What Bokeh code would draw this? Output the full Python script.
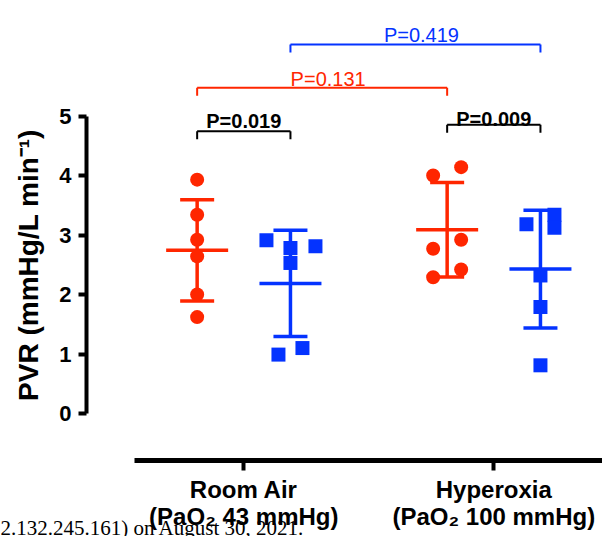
import numpy as np
from bokeh.plotting import figure
from bokeh.models import Range1d, FixedTicker, ColumnDataSource
from bokeh.core.properties import value
from bokeh.embed import file_html
from bokeh.resources import INLINE

# ---------------- data ----------------
groups = ["Room Air\n(PaO\u2082 43 mmHg)", "Hyperoxia\n(PaO\u2082 100 mmHg)"]
red_room_air = [3.93, 3.34, 2.92, 2.64, 2.00, 1.62]
blue_room_air = [2.91, 2.78, 2.81, 2.53, 1.10, 0.99]
red_hyperoxia = [4.00, 4.14, 2.92, 2.77, 2.42, 2.29]
blue_hyperoxia = [3.18, 3.34, 3.12, 2.32, 1.79, 0.81]

y_ticks = [0, 1, 2, 3, 4, 5]
y_label = "PVR (mmHg/L min\u207b\u00b9)"

p_labels = ["P=0.019", "P=0.009", "P=0.131", "P=0.419"]

watermark = "2.132.245.161) on August 30, 2021."

# ---------------- layout constants ----------------
RED = "#FF2600"
BLUE = "#0433FF"
FONT = "Liberation Sans"
PX = 1.0 / 250.0          # x units per pixel
OFF = 93.3 / 2 * PX       # series offset from group centre

jit_red_ra = [0, 0, 0, 0, 0, 0]
jit_blue_ra = [-24, 0, 25, 0, 12, -12]
jit_red_hx = [-14, 14, 14, -14, 14, -14]
jit_blue_hx = [-14, 14, 14, 0, 0, 0]

p = figure(width=602, height=536, output_backend="svg", toolbar_location=None,
           x_range=Range1d(-0.9732, 1.4348), y_range=Range1d(-2.0672, 6.9412),
           min_border=0)
p.outline_line_color = None
p.xgrid.visible = False
p.ygrid.visible = False
p.background_fill_color = "white"
p.border_fill_color = "white"

# y axis
ya = p.yaxis[0]
ya.fixed_location = -0.6292
ya.bounds = (0, 5)
ya.ticker = FixedTicker(ticks=y_ticks)
ya.axis_line_color = "black"
ya.axis_line_width = 4
ya.major_tick_line_color = "black"
ya.major_tick_line_width = 4
ya.major_tick_out = 8
ya.major_tick_in = 0
ya.minor_tick_line_color = None
ya.major_label_text_font = FONT
ya.major_label_text_font_style = "bold"
ya.major_label_text_font_size = "22px"
ya.major_label_text_color = "black"
ya.major_label_standoff = 7
ya.axis_label = y_label
ya.axis_label_text_font = FONT
ya.axis_label_text_font_style = "bold"
ya.axis_label_text_font_size = "28px"
ya.axis_label_text_color = "black"
ya.axis_label_standoff = 12

# x axis
xa = p.xaxis[0]
xa.fixed_location = -0.790
xa.bounds = (-0.437, 1.4348)
xa.ticker = FixedTicker(ticks=[0, 1])
xa.major_label_overrides = {0: groups[0], 1: groups[1]}
xa.axis_line_color = "black"
xa.axis_line_width = 5
xa.major_tick_line_color = "black"
xa.major_tick_line_width = 4
xa.major_tick_out = 10
xa.major_tick_in = 0
xa.minor_tick_line_color = None
xa.major_label_text_font = FONT
xa.major_label_text_font_style = "bold"
xa.major_label_text_font_size = "24px"
xa.major_label_text_color = "black"
xa.major_label_text_line_height = 1.0
xa.major_label_standoff = 5

# ---------------- series ----------------
series = [
    (red_room_air, jit_red_ra, 0 - OFF, RED, "circle"),
    (blue_room_air, jit_blue_ra, 0 + OFF, BLUE, "square"),
    (red_hyperoxia, jit_red_hx, 1 - OFF, RED, "circle"),
    (blue_hyperoxia, jit_blue_hx, 1 + OFF, BLUE, "square"),
]
centers = []
for vals, jit, xc, col, mk in series:
    v = np.array(vals)
    m = v.mean()
    s = v.std(ddof=1)
    centers.append(xc)
    p.segment(x0=[xc], y0=[m - s], x1=[xc], y1=[m + s], line_color=col, line_width=3.5)
    p.segment(x0=[xc - 17 * PX] * 2, y0=[m - s, m + s], x1=[xc + 17 * PX] * 2,
              y1=[m - s, m + s], line_color=col, line_width=3.5)
    p.segment(x0=[xc - 31 * PX], y0=[m], x1=[xc + 31 * PX], y1=[m],
              line_color=col, line_width=3.5)
    src = ColumnDataSource(dict(x=[xc + j * PX for j in jit], y=vals))
    p.scatter("x", "y", source=src, marker=mk, size=14, fill_color=col,
              line_color=None)

# ---------------- significance brackets ----------------
pairs = [(0, 1), (2, 3), (0, 2), (1, 3)]
bracket_y = [4.745, 4.852, 5.474, 6.202]
label_y = [4.913, 4.953, 5.625, 6.353]
label_dx = [0, 0, 6, 6]
b_colors = ["black", "black", RED, BLUE]
b_styles = ["bold", "bold", "normal", "normal"]
leg = 0.135
for (a, b), by, ly, dx, col, st, lab in zip(pairs, bracket_y, label_y, label_dx,
                                            b_colors, b_styles, p_labels):
    x0, x1 = centers[a], centers[b]
    p.segment(x0=[x0, x0, x1], y0=[by, by, by], x1=[x1, x0, x1],
              y1=[by, by - leg, by - leg], line_color=col, line_width=2)
    p.text(x=[(x0 + x1) / 2], y=[ly], text=[lab], text_font=value(FONT),
           text_font_style=st, text_font_size="20px", text_color=col,
           text_align="center", text_baseline="alphabetic", x_offset=dx)

# watermark stamp (page footer printed over the chart)
p.text(x=[-0.96], y=[-1.924], text=[watermark], text_font=value("Liberation Serif"),
       text_font_size="21px", text_color="black", text_align="left",
       text_baseline="alphabetic", x_offset=-3.3)

open("out.html", "w").write(file_html(p, INLINE))
